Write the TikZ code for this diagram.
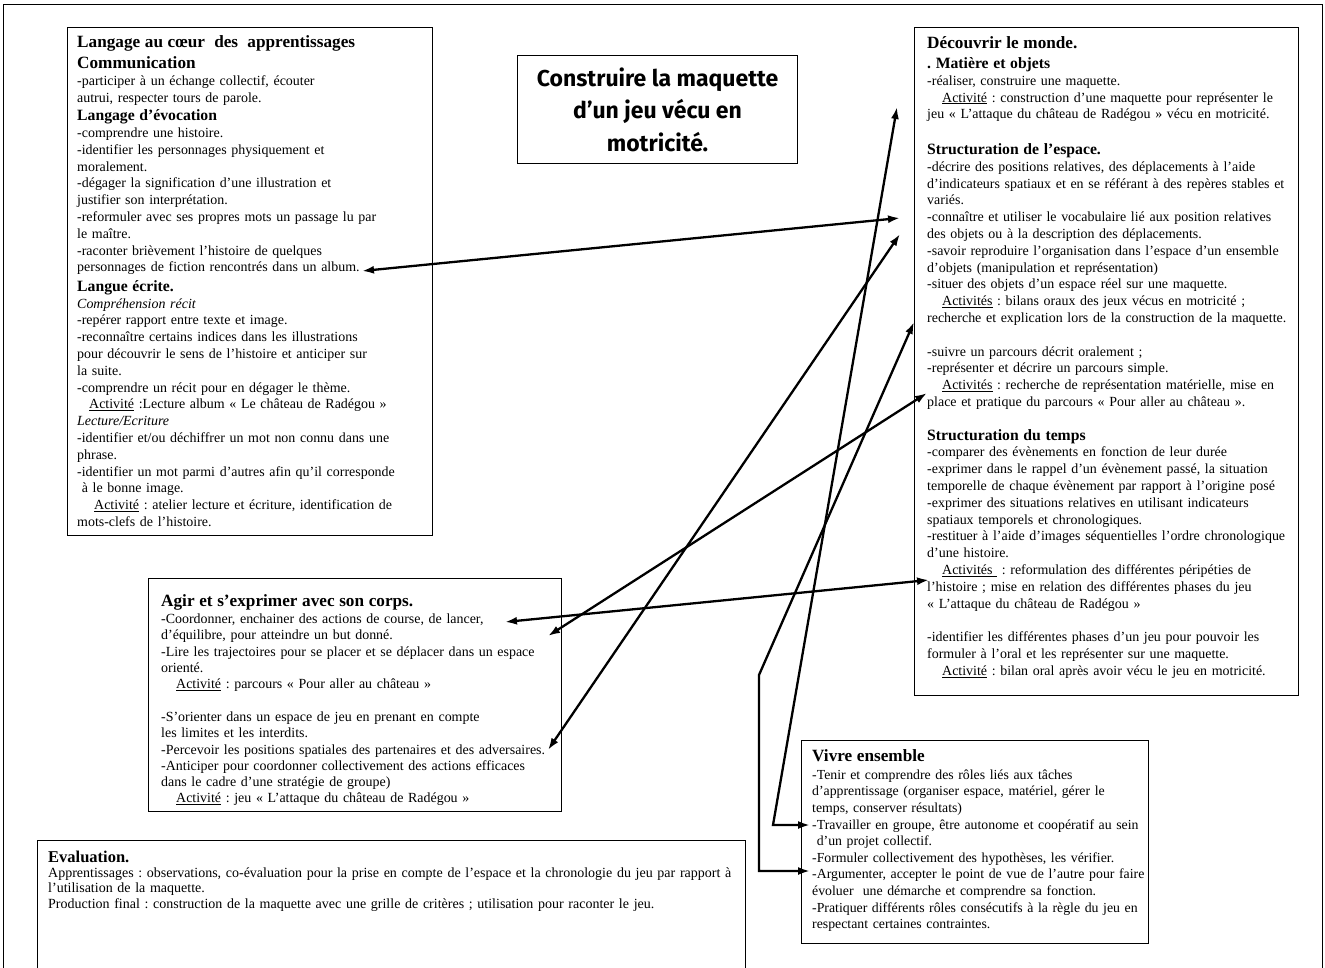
\documentclass[tikz,border=0pt]{standalone}
\usepackage{fontspec}
\setmainfont{Liberation Serif}
\newfontfamily\titrefont{Fira Sans}
\usetikzlibrary{arrows.meta}
\frenchspacing
\newcommand{\rubrique}[1]{{\fontsize{17.2}{16.8}\selectfont\bfseries #1}}
\newcommand{\partie}[1]{{\fontsize{15.7}{16.8}\selectfont\bfseries #1}}
\newcommand{\activ}[1]{\hspace*{15pt}\underline{#1}}
\tikzset{
	boite/.style={draw,line width=1.1pt,anchor=north west,inner sep=0pt},
	texte/.style 2 args={anchor=base west,align=left,inner sep=0pt,text width=#1,font=\fontsize{13.95}{#2}\selectfont},
	fleche/.style={{Latex[length=12pt,width=8pt]}-{Latex[length=12pt,width=8pt]},line width=2.3pt}
}

\begin{document}
\begin{tikzpicture}[x=1pt,y=-1pt]
	\useasboundingbox (0,0) rectangle (1325,968);
	\draw[line width=0.8pt] (3,990) |- (1322,4) -- (1322,990);

	\node [boite,minimum width=365pt,minimum height=508pt] (langage) at (67,27) {};
	\node [texte={355pt}{16.8}] (langagetxt) at (77,48) {
		\rubrique{Langage au cœur\ \ des\ \ apprentissages}\\[4pt]
		\rubrique{Communication}\\
		-participer à un échange collectif, écouter\\
		autrui, respecter tours de parole.\\[1.5pt]
		\partie{Langage d’évocation}\\
		-comprendre une histoire.\\
		-identifier les personnages physiquement et\\
		moralement.\\
		-dégager la signification d’une illustration et\\
		justifier son interprétation.\\
		-reformuler avec ses propres mots un passage lu par\\
		le maître.\\
		-raconter brièvement l’histoire de quelques\\
		personnages de fiction rencontrés dans un album.\\[2.7pt]
		\partie{Langue écrite.}\\
		\textit{Compréhension récit}\\
		-repérer rapport entre texte et image.\\
		-reconnaître certains indices dans les illustrations\\
		pour découvrir le sens de l’histoire et anticiper sur\\
		la suite.\\
		-comprendre un récit pour en dégager le thème.\\
		\hspace*{12pt}\underline{Activité} :Lecture album « Le château de Radégou »\\
		\textit{Lecture/Ecriture}\\
		-identifier et/ou déchiffrer un mot non connu dans une\\
		phrase.\\
		-identifier un mot parmi d’autres afin qu’il corresponde\\
		\ à le bonne image.\\
		\hspace*{17pt}\underline{Activité} : atelier lecture et écriture, identification de\\
		mots-clefs de l’histoire.};

	\node [boite,minimum width=280pt,minimum height=108pt] (titre) at (517,55) {};
	\node [align=center,font=\titrefont\bfseries\fontsize{23}{32.5}\selectfont] (titretxt) at (titre.center) {Construire la maquette\\d’un jeu vécu en\\motricité.};

	\node [boite,minimum width=384pt,minimum height=668pt] (monde) at (914,27) {};
	\node [texte={368pt}{16.8}] (mondetxt) at (927,48.5) {
		\rubrique{Découvrir le monde.}\\[3.2pt]
		\partie{. Matière et objets}\\
		-réaliser, construire une maquette.\\
		\activ{Activité} : construction d’une maquette pour représenter le\\
		jeu « L’attaque du château de Radégou » vécu en motricité.\\[18.8pt]
		\partie{Structuration de l’espace.}\\
		-décrire des positions relatives, des déplacements à l’aide\\
		d’indicateurs spatiaux et en se référant à des repères stables et\\
		variés.\\
		-connaître et utiliser le vocabulaire lié aux position relatives\\
		des objets ou à la description des déplacements.\\
		-savoir reproduire l’organisation dans l’espace d’un ensemble\\
		d’objets (manipulation et représentation)\\
		-situer des objets d’un espace réel sur une maquette.\\
		\activ{Activités} : bilans oraux des jeux vécus en motricité ;\\
		recherche et explication lors de la construction de la maquette.\\[16.8pt]
		-suivre un parcours décrit oralement ;\\
		-représenter et décrire un parcours simple.\\
		\activ{Activités} : recherche de représentation matérielle, mise en\\
		place et pratique du parcours « Pour aller au château ».\\[16.8pt]
		\partie{Structuration du temps}\\
		-comparer des évènements en fonction de leur durée\\
		-exprimer dans le rappel d’un évènement passé, la situation\\
		temporelle de chaque évènement par rapport à l’origine posé\\
		-exprimer des situations relatives en utilisant indicateurs\\
		spatiaux temporels et chronologiques.\\
		-restituer à l’aide d’images séquentielles l’ordre chronologique\\
		d’une histoire.\\
		\activ{Activités\ } : reformulation des différentes péripéties de\\
		l’histoire ; mise en relation des différentes phases du jeu\\
		« L’attaque du château de Radégou »\\[16.8pt]
		-identifier les différentes phases d’un jeu pour pouvoir les\\
		formuler à l’oral et les représenter sur une maquette.\\
		\activ{Activité} : bilan oral après avoir vécu le jeu en motricité.};

	\node [boite,minimum width=413pt,minimum height=233pt] (corps) at (148,578) {};
	\node [texte={400pt}{16.3}] (corpstxt) at (161,606) {
		\rubrique{Agir et s’exprimer avec son corps.}\\[1.3pt]
		-Coordonner, enchainer des actions de course, de lancer,\\
		d’équilibre, pour atteindre un but donné.\\
		-Lire les trajectoires pour se placer et se déplacer dans un espace\\
		orienté.\\
		\activ{Activité} : parcours « Pour aller au château »\\[16.3pt]
		-S’orienter dans un espace de jeu en prenant en compte\\
		les limites et les interdits.\\
		-Percevoir les positions spatiales des partenaires et des adversaires.\\
		-Anticiper pour coordonner collectivement des actions efficaces\\
		dans le cadre d’une stratégie de groupe)\\
		\activ{Activité} : jeu « L’attaque du château de Radégou »};

	\node [boite,minimum width=347pt,minimum height=203pt] (ensemble) at (801,740) {};
	\node [texte={345pt}{16.6},font=\fontsize{13.8}{16.6}\selectfont] (ensembletxt) at (812,761) {
		\rubrique{Vivre ensemble}\\[1.6pt]
		-Tenir et comprendre des rôles liés aux tâches\\
		d’apprentissage (organiser espace, matériel, gérer le\\
		temps, conserver résultats)\\
		-Travailler en groupe, être autonome et coopératif au sein\\
		\ d’un projet collectif.\\
		-Formuler collectivement des hypothèses, les vérifier.\\
		-Argumenter, accepter le point de vue de l’autre pour faire\\
		évoluer\ \ une démarche et comprendre sa fonction.\\
		-Pratiquer différents rôles consécutifs à la règle du jeu en\\
		respectant certaines contraintes.};

	\node [boite,minimum width=708pt,minimum height=150pt] (evaluation) at (37,840) {};
	\node [texte={700pt}{15.4},font=\fontsize{14}{15.4}\selectfont] (evaluationtxt) at (48,862) {
		{\fontsize{16.5}{15.4}\selectfont\bfseries Evaluation.}\\
		Apprentissages : observations, co-évaluation pour la prise en compte de l’espace et la chronologie du jeu par rapport à\\
		l’utilisation de la maquette.\\
		Production final : construction de la maquette avec une grille de critères ; utilisation pour raconter le jeu.};

	\coordinate (album) at (362,271);
	\coordinate (vocab) at (900,218);
	\coordinate (objets) at (900,234);
	\coordinate (percevoir) at (548,750);
	\coordinate (lire) at (548,636);
	\coordinate (parcours) at (927,393);
	\coordinate (coordonner) at (505,622);
	\coordinate (phases) at (929,580);
	\coordinate (recherche) at (914,322);
	\coordinate (argumenter) at (810,871);
	\coordinate (maquette) at (897,107);
	\coordinate (travailler) at (810,825);

	\draw [fleche] (album) -- (vocab);
	\draw [fleche] (percevoir) -- (objets);
	\draw [fleche] (lire) -- (parcours);
	\draw [fleche] (coordonner) -- (phases);
	\draw [fleche] (argumenter) -| (759,675) -- (recherche);
	\draw [fleche] (travailler) -- (773,825) -- (maquette);
\end{tikzpicture}
\end{document}
